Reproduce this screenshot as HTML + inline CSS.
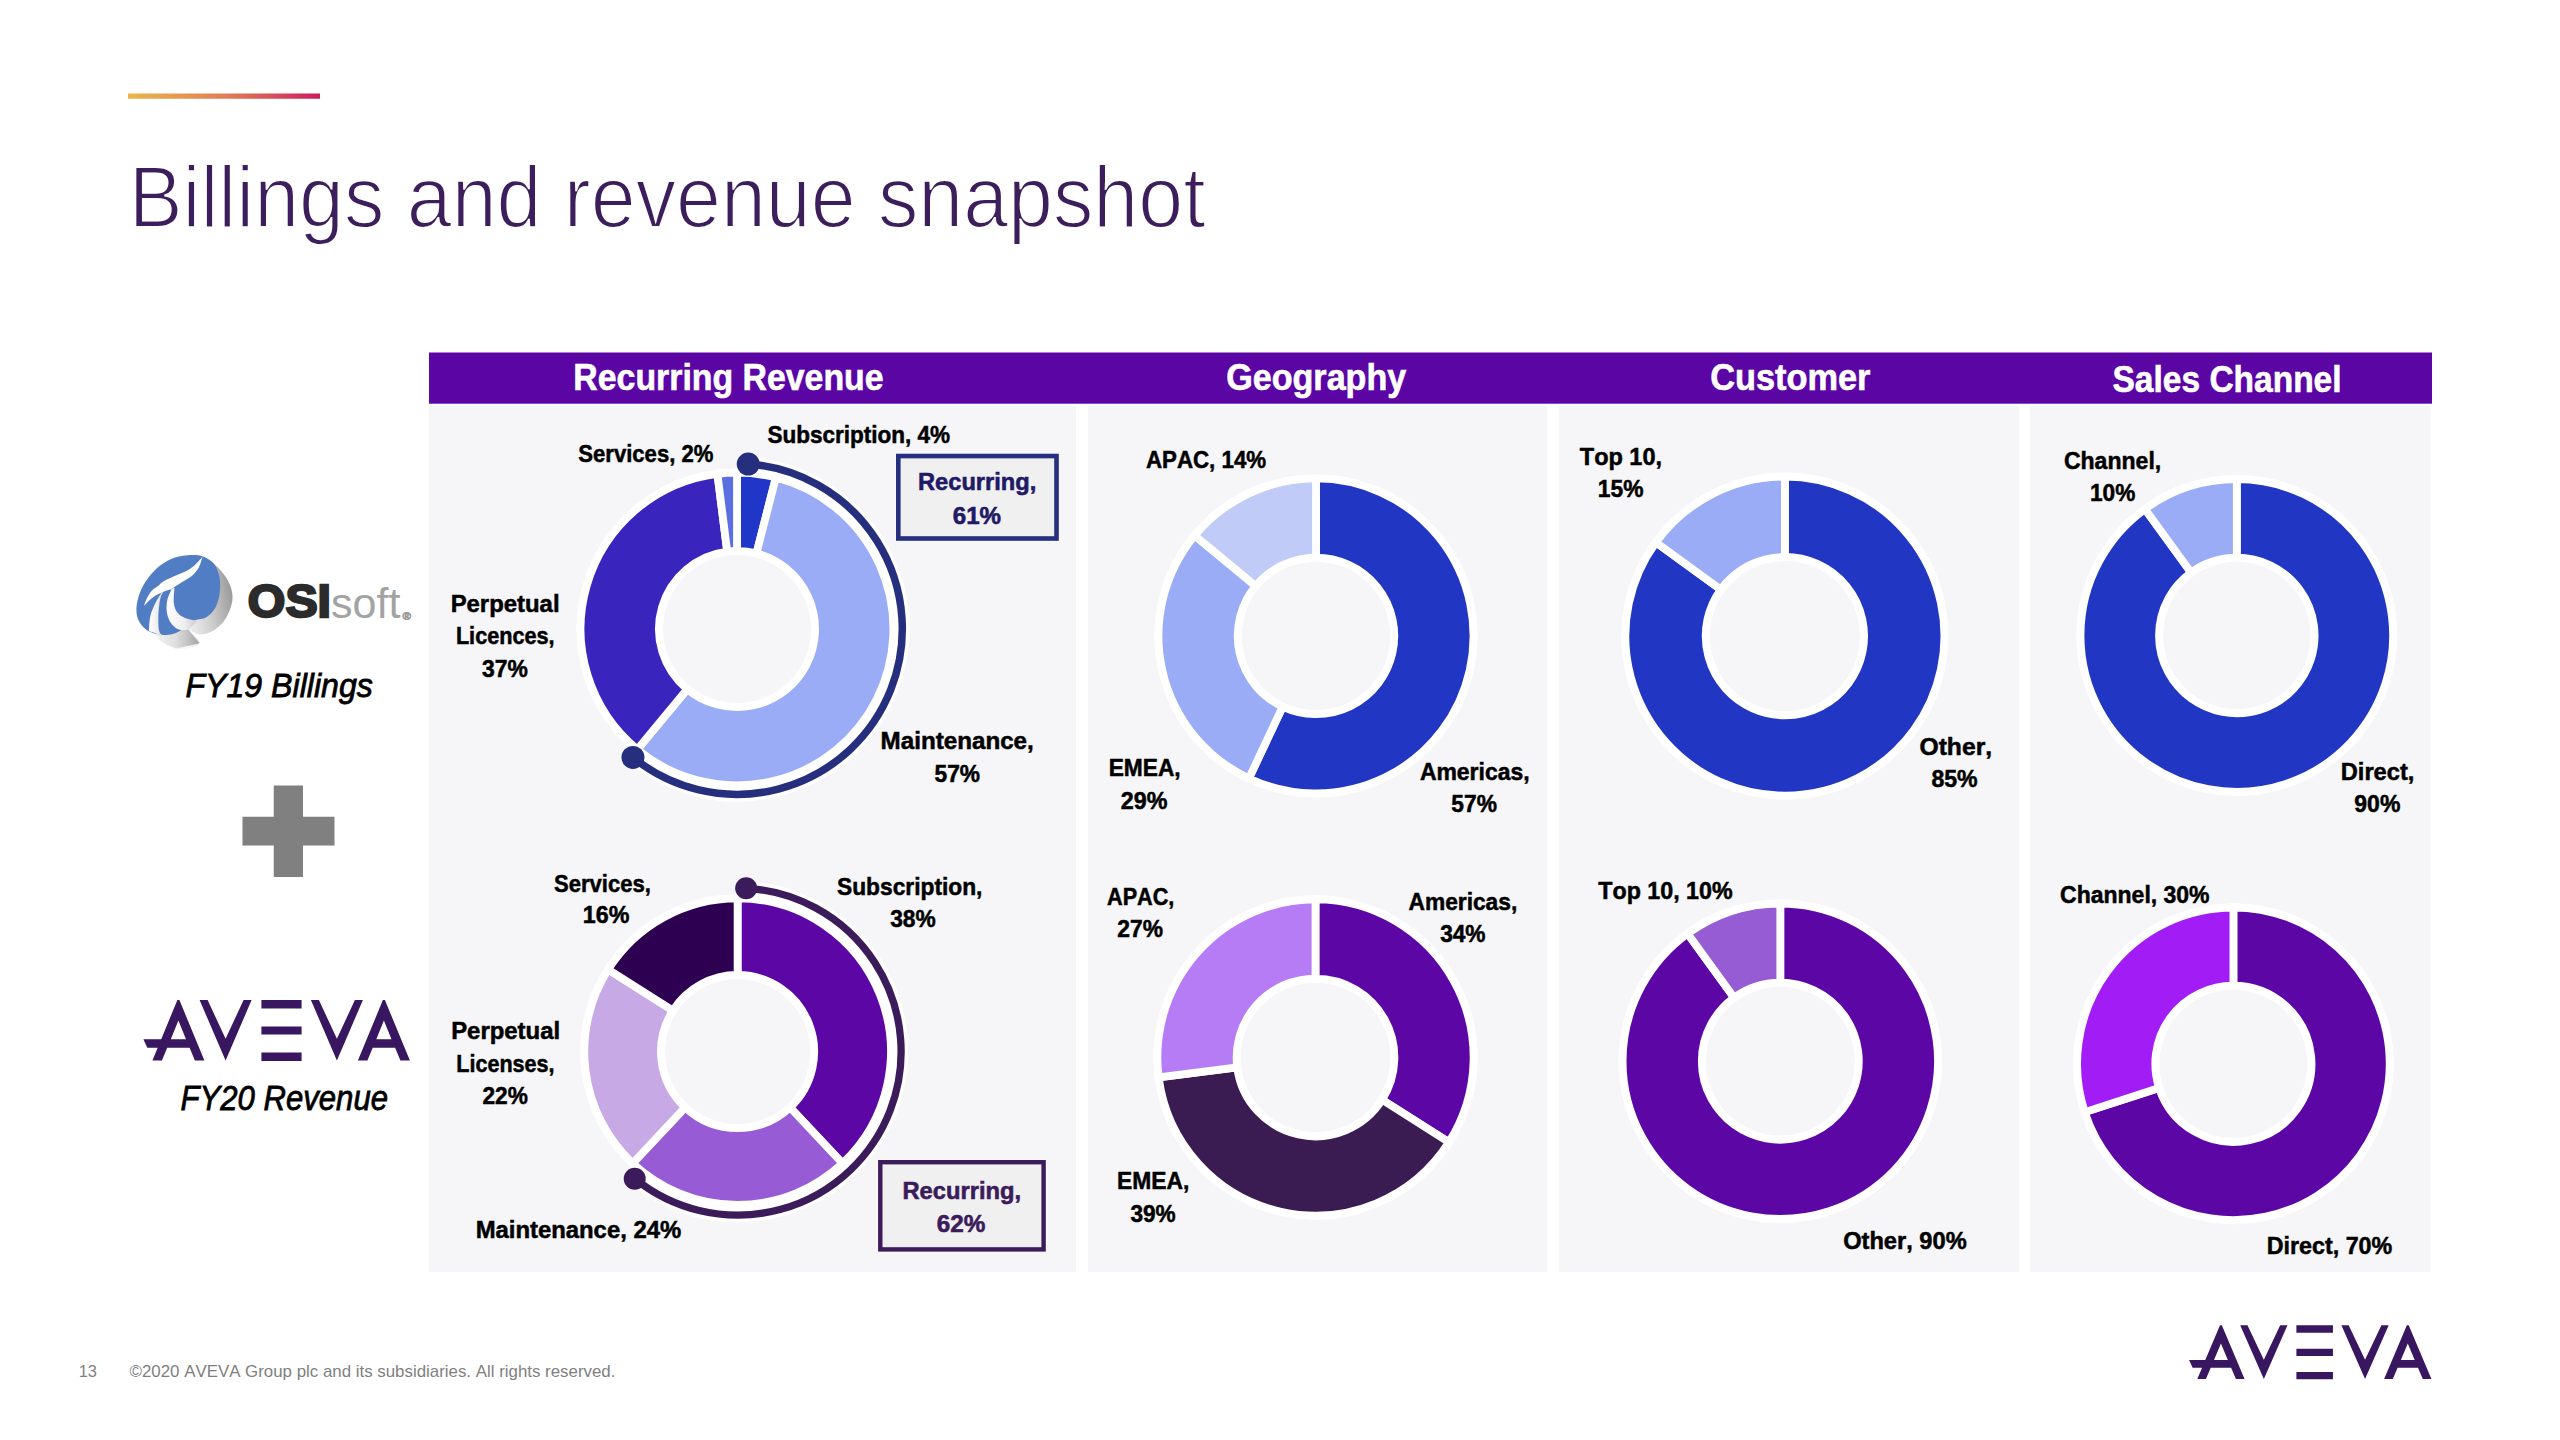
<!DOCTYPE html>
<html><head><meta charset="utf-8"><title>Billings and revenue snapshot</title>
<style>
html,body{margin:0;padding:0;background:#fff;}
body{width:2560px;height:1440px;overflow:hidden;position:relative;}
svg{position:absolute;left:0;top:0;display:block;}
text{font-family:"Liberation Sans",sans-serif;font-kerning:none;}
</style></head><body>
<svg width="2560" height="1440" viewBox="0 0 2560 1440">
<rect width="2560" height="1440" fill="#fff"/>
<defs><linearGradient id="gl" x1="0" x2="1" y1="0" y2="0"><stop offset="0" stop-color="#EAB54A"/><stop offset="0.5" stop-color="#E07F55"/><stop offset="1" stop-color="#CC1D5E"/></linearGradient></defs>
<rect x="128" y="93.5" width="192" height="5.25" fill="url(#gl)"/>
<rect x="429" y="352.5" width="2003" height="51.2" fill="#5B05A5"/>
<rect x="429" y="406" width="647" height="866" fill="#F6F6F8"/>
<rect x="1088" y="406" width="459" height="866" fill="#F6F6F8"/>
<rect x="1559" y="406" width="460" height="866" fill="#F6F6F8"/>
<rect x="2030" y="406" width="400.5" height="866" fill="#F6F6F8"/>
<circle cx="737.0" cy="629" r="160.5" fill="#fff"/>
<path d="M737.00,472.60 A156.4,156.4 0 0 1 775.90,477.51 L756.42,553.35 A78.1,78.1 0 0 0 737.00,550.90 Z" fill="#2036C8" stroke="#fff" stroke-width="7.8" stroke-linejoin="miter"/>
<path d="M775.90,477.51 A156.4,156.4 0 1 1 637.31,749.51 L687.22,689.18 A78.1,78.1 0 1 0 756.42,553.35 Z" fill="#9AACF6" stroke="#fff" stroke-width="7.8" stroke-linejoin="miter"/>
<path d="M637.31,749.51 A156.4,156.4 0 0 1 717.40,473.83 L727.21,551.52 A78.1,78.1 0 0 0 687.22,689.18 Z" fill="#3A24BE" stroke="#fff" stroke-width="7.8" stroke-linejoin="miter"/>
<path d="M717.40,473.83 A156.4,156.4 0 0 1 737.00,472.60 L737.00,550.90 A78.1,78.1 0 0 0 727.21,551.52 Z" fill="#5B6FE0" stroke="#fff" stroke-width="7.8" stroke-linejoin="miter"/>
<circle cx="737.0" cy="629" r="74" fill="#F6F6F8"/>
<circle cx="737.6" cy="1051.6" r="157.4" fill="#fff"/>
<path d="M737.60,898.30 A153.3,153.3 0 0 1 842.54,1163.35 L790.04,1107.44 A76.6,76.6 0 0 0 737.60,975.00 Z" fill="#5C06A6" stroke="#fff" stroke-width="7.8" stroke-linejoin="miter"/>
<path d="M842.54,1163.35 A153.3,153.3 0 0 1 632.66,1163.35 L685.16,1107.44 A76.6,76.6 0 0 0 790.04,1107.44 Z" fill="#975CD5" stroke="#fff" stroke-width="7.8" stroke-linejoin="miter"/>
<path d="M632.66,1163.35 A153.3,153.3 0 0 1 608.16,969.46 L672.92,1010.56 A76.6,76.6 0 0 0 685.16,1107.44 Z" fill="#C7A9E6" stroke="#fff" stroke-width="7.8" stroke-linejoin="miter"/>
<path d="M608.16,969.46 A153.3,153.3 0 0 1 737.60,898.30 L737.60,975.00 A76.6,76.6 0 0 0 672.92,1010.56 Z" fill="#2E0052" stroke="#fff" stroke-width="7.8" stroke-linejoin="miter"/>
<circle cx="737.6" cy="1051.6" r="72.5" fill="#F6F6F8"/>
<circle cx="1316" cy="635.9" r="161.6" fill="#fff"/>
<path d="M1316.00,478.40 A157.5,157.5 0 1 1 1248.94,778.41 L1282.66,706.75 A78.3,78.3 0 1 0 1316.00,557.60 Z" fill="#2137C4" stroke="#fff" stroke-width="7.8" stroke-linejoin="miter"/>
<path d="M1248.94,778.41 A157.5,157.5 0 0 1 1194.64,535.51 L1255.67,585.99 A78.3,78.3 0 0 0 1282.66,706.75 Z" fill="#9AACF6" stroke="#fff" stroke-width="7.8" stroke-linejoin="miter"/>
<path d="M1194.64,535.51 A157.5,157.5 0 0 1 1316.00,478.40 L1316.00,557.60 A78.3,78.3 0 0 0 1255.67,585.99 Z" fill="#C0CBF8" stroke="#fff" stroke-width="7.8" stroke-linejoin="miter"/>
<circle cx="1316" cy="635.9" r="74.2" fill="#F6F6F8"/>
<circle cx="1315.5" cy="1057.5" r="162.2" fill="#fff"/>
<path d="M1315.50,899.40 A158.1,158.1 0 0 1 1448.99,1142.21 L1382.12,1099.78 A78.89999999999999,78.89999999999999 0 0 0 1315.50,978.60 Z" fill="#5C06A6" stroke="#fff" stroke-width="7.8" stroke-linejoin="miter"/>
<path d="M1448.99,1142.21 A158.1,158.1 0 0 1 1158.65,1077.32 L1237.22,1067.39 A78.89999999999999,78.89999999999999 0 0 0 1382.12,1099.78 Z" fill="#3A1C52" stroke="#fff" stroke-width="7.8" stroke-linejoin="miter"/>
<path d="M1158.65,1077.32 A158.1,158.1 0 0 1 1315.50,899.40 L1315.50,978.60 A78.89999999999999,78.89999999999999 0 0 0 1237.22,1067.39 Z" fill="#B67CF6" stroke="#fff" stroke-width="7.8" stroke-linejoin="miter"/>
<circle cx="1315.5" cy="1057.5" r="74.8" fill="#F6F6F8"/>
<circle cx="1784.9" cy="636.1" r="163.6" fill="#fff"/>
<path d="M1784.90,476.60 A159.5,159.5 0 1 1 1655.86,542.35 L1720.83,589.55 A79.19999999999999,79.19999999999999 0 1 0 1784.90,556.90 Z" fill="#2137C4" stroke="#fff" stroke-width="7.8" stroke-linejoin="miter"/>
<path d="M1655.86,542.35 A159.5,159.5 0 0 1 1784.90,476.60 L1784.90,556.90 A79.19999999999999,79.19999999999999 0 0 0 1720.83,589.55 Z" fill="#9AACF6" stroke="#fff" stroke-width="7.8" stroke-linejoin="miter"/>
<circle cx="1784.9" cy="636.1" r="75.1" fill="#F6F6F8"/>
<circle cx="1780.3" cy="1061.2" r="161.8" fill="#fff"/>
<path d="M1780.30,903.50 A157.70000000000002,157.70000000000002 0 1 1 1687.61,933.62 L1734.16,997.69 A78.5,78.5 0 1 0 1780.30,982.70 Z" fill="#5C06A6" stroke="#fff" stroke-width="7.8" stroke-linejoin="miter"/>
<path d="M1687.61,933.62 A157.70000000000002,157.70000000000002 0 0 1 1780.30,903.50 L1780.30,982.70 A78.5,78.5 0 0 0 1734.16,997.69 Z" fill="#965CD4" stroke="#fff" stroke-width="7.8" stroke-linejoin="miter"/>
<circle cx="1780.3" cy="1061.2" r="74.4" fill="#F6F6F8"/>
<circle cx="2236.8" cy="635.5" r="160.4" fill="#fff"/>
<path d="M2236.80,479.20 A156.3,156.3 0 1 1 2144.93,509.05 L2191.07,572.56 A77.8,77.8 0 1 0 2236.80,557.70 Z" fill="#2137C4" stroke="#fff" stroke-width="7.8" stroke-linejoin="miter"/>
<path d="M2144.93,509.05 A156.3,156.3 0 0 1 2236.80,479.20 L2236.80,557.70 A77.8,77.8 0 0 0 2191.07,572.56 Z" fill="#9AACF6" stroke="#fff" stroke-width="7.8" stroke-linejoin="miter"/>
<circle cx="2236.8" cy="635.5" r="73.7" fill="#F6F6F8"/>
<circle cx="2233.4" cy="1063.8" r="160.4" fill="#fff"/>
<path d="M2233.40,907.50 A156.3,156.3 0 1 1 2084.75,1112.10 L2159.12,1087.93 A78.1,78.1 0 1 0 2233.40,985.70 Z" fill="#5C06A6" stroke="#fff" stroke-width="7.8" stroke-linejoin="miter"/>
<path d="M2084.75,1112.10 A156.3,156.3 0 0 1 2233.40,907.50 L2233.40,985.70 A78.1,78.1 0 0 0 2159.12,1087.93 Z" fill="#A11CF5" stroke="#fff" stroke-width="7.8" stroke-linejoin="miter"/>
<circle cx="2233.4" cy="1063.8" r="74" fill="#F6F6F8"/>
<path d="M748.24,464.08 A165.3,165.3 0 1 1 632.97,757.46" fill="none" stroke="#fff" stroke-width="14.5"/><path d="M748.24,464.08 A165.3,165.3 0 1 1 632.97,757.46" fill="none" stroke="#262F7D" stroke-width="7.5"/><circle cx="748.24" cy="464.08" r="11.5" fill="#262F7D"/><circle cx="632.97" cy="757.46" r="11.5" fill="#262F7D"/>
<path d="M746.16,888.32 A163.5,163.5 0 1 1 634.71,1178.66" fill="none" stroke="#fff" stroke-width="14.3"/><path d="M746.16,888.32 A163.5,163.5 0 1 1 634.71,1178.66" fill="none" stroke="#3C1B5B" stroke-width="7.3"/><circle cx="746.16" cy="888.32" r="11" fill="#3C1B5B"/><circle cx="634.71" cy="1178.66" r="11" fill="#3C1B5B"/>
<rect x="898.3" y="456.05" width="158.19999999999996" height="82.44999999999996" fill="#F0F0F1" stroke="#262F7D" stroke-width="4.6"/>
<rect x="880.3000000000001" y="1162.2" width="163.29999999999993" height="87.1999999999999" fill="#F0F0F1" stroke="#3C1B5B" stroke-width="4.4"/>
<rect x="273.75" y="785.5" width="29.25" height="91.5" fill="#808080"/><rect x="242.5" y="816.75" width="92" height="28.75" fill="#808080"/>
<g><defs><linearGradient id="og" x1="0" y1="0.2" x2="1" y2="0"><stop offset="0" stop-color="#ffffff"/><stop offset="0.35" stop-color="#f2f2f2"/><stop offset="0.62" stop-color="#cfcfcf"/><stop offset="1" stop-color="#8e8e8e"/></linearGradient><linearGradient id="os" x1="0" y1="0" x2="1" y2="0"><stop offset="0" stop-color="#ffffff"/><stop offset="0.6" stop-color="#eeeef0"/><stop offset="1" stop-color="#c9c9cc"/></linearGradient></defs><path d="M149.00,631.00 C150.67,634.50 155.27,637.95 160.00,641.00 C164.73,644.05 170.82,648.93 177.40,649.30 C183.98,649.67 197.57,646.33 199.50,643.20 C201.43,640.07 188.92,631.95 189.00,630.50 C189.08,629.05 195.83,634.55 200.00,634.50 C204.17,634.45 209.67,632.95 214.00,630.20 C218.33,627.45 222.93,623.03 226.00,618.00 C229.07,612.97 231.73,605.50 232.40,600.00 C233.07,594.50 231.73,589.67 230.00,585.00 C228.27,580.33 225.00,575.67 222.00,572.00 C219.00,568.33 215.67,565.00 212.00,563.00 C208.33,561.00 203.67,558.00 200.00,560.00 C196.33,562.00 195.00,568.33 190.00,575.00 C185.00,581.67 176.67,592.50 170.00,600.00 C163.33,607.50 153.50,614.83 150.00,620.00 C146.50,625.17 147.33,627.50 149.00,631.00 Z" fill="url(#og)"/><linearGradient id="otb" x1="0" y1="0" x2="1" y2="0"><stop offset="0" stop-color="#fafafa"/><stop offset="0.55" stop-color="#dedede"/><stop offset="1" stop-color="#a4a4a4"/></linearGradient><path d="M148,628 L160.1,640.8 Q167,645.5 176.1,648.4 L199.5,643.2 L188,629 Z" fill="url(#otb)"/><path d="M148.30,631.00 C145.72,629.50 143.33,627.33 141.50,625.00 C139.67,622.67 138.13,619.95 137.30,617.00 C136.47,614.05 136.30,610.63 136.50,607.30 C136.70,603.97 137.50,600.38 138.50,597.00 C139.50,593.62 140.73,590.38 142.50,587.00 C144.27,583.62 146.08,580.32 149.10,576.70 C152.12,573.08 156.28,568.50 160.60,565.30 C164.92,562.10 169.93,559.22 175.00,557.50 C180.07,555.78 186.33,555.17 191.00,555.00 C195.67,554.83 199.17,555.03 203.00,556.50 C206.83,557.97 211.27,560.43 214.00,563.80 C216.73,567.17 218.43,572.00 219.40,576.70 C220.37,581.40 220.43,586.90 219.80,592.00 C219.17,597.10 217.83,603.10 215.60,607.30 C213.37,611.50 209.85,615.03 206.40,617.20 C202.95,619.37 198.30,618.67 194.90,620.30 C191.50,621.93 189.15,624.88 186.00,627.00 C182.85,629.12 179.33,631.67 176.00,633.00 C172.67,634.33 169.17,634.83 166.00,635.00 C162.83,635.17 159.95,634.67 157.00,634.00 C154.05,633.33 150.88,632.50 148.30,631.00 Z" fill="#507DC3"/><path d="M161.30,592.80 C160.28,594.58 156.98,599.82 155.20,603.50 C153.42,607.18 151.62,611.08 150.60,614.90 C149.58,618.72 149.35,623.72 149.10,626.40 C148.85,629.08 149.10,630.23 149.10,631.00 L149.10,631.00 C151.27,631.77 159.93,634.83 162.10,635.60 L162.10,635.60 C161.58,634.70 159.63,633.00 159.00,630.20 C158.37,627.40 158.30,622.62 158.30,618.80 C158.30,614.98 158.62,610.87 159.00,607.30 C159.38,603.73 159.85,599.98 160.60,597.40 C161.35,594.82 163.02,592.73 163.50,591.80 Z" fill="url(#os)"/><path d="M171.60,589.00 C170.90,590.78 168.22,596.02 167.40,599.70 C166.58,603.38 166.32,607.55 166.70,611.10 C167.08,614.65 168.18,618.20 169.70,621.00 C171.22,623.80 173.50,626.37 175.80,627.90 C178.10,629.43 181.13,630.02 183.50,630.20 C185.87,630.38 188.92,629.20 190.00,629.00 L190.00,629.00 C191.17,627.67 195.83,622.33 197.00,621.00 L197.00,621.00 C196.65,620.88 196.90,620.80 194.90,620.30 C192.90,619.80 187.92,619.28 185.00,618.00 C182.08,616.72 179.25,615.02 177.40,612.60 C175.55,610.18 174.42,607.32 173.90,603.50 C173.38,599.68 174.12,592.37 174.30,589.70 C174.48,587.03 174.88,587.87 175.00,587.50 Z" fill="url(#os)"/><path d="M144.10,605.80 C144.50,604.67 145.27,601.47 146.50,599.00 C147.73,596.53 149.58,593.17 151.50,591.00 C153.42,588.83 155.85,587.70 158.00,586.00 C160.15,584.30 161.43,582.55 164.40,580.80 C167.37,579.05 171.98,577.22 175.80,575.50 C179.62,573.78 184.12,572.25 187.30,570.50 C190.48,568.75 192.62,567.00 194.90,565.00 C197.18,563.00 199.72,559.92 201.00,558.50 C202.28,557.08 202.33,556.83 202.60,556.50 L202.60,556.50 C201.97,558.35 200.47,564.48 198.80,567.60 C197.13,570.72 195.15,572.92 192.60,575.20 C190.05,577.48 186.03,579.65 183.50,581.30 C180.97,582.95 179.38,583.82 177.40,585.10 C175.42,586.38 173.38,588.10 171.60,589.00 C169.82,589.90 168.42,589.87 166.70,590.50 C164.98,591.13 163.22,591.92 161.30,592.80 C159.38,593.68 157.23,594.53 155.20,595.80 C153.17,597.07 150.95,598.73 149.10,600.40 C147.25,602.07 144.93,604.90 144.10,605.80 Z" fill="#ffffff"/></g>
<path fill-rule="evenodd" d="M177.40,1000.00 179.40,1000.00 204.40,1060.60 194.90,1060.60 189.60,1047.70 167.20,1047.70 161.90,1060.60 152.40,1060.60 157.70,1047.70 147.30,1047.70 143.40,1039.20 161.20,1039.20Z M178.40,1020.60 186.00,1039.20 170.80,1039.20Z" fill="#381660"/>
<polygon points="199.60,1000.00 207.60,1000.00 225.60,1038.80 243.60,1000.00 251.60,1000.00 225.60,1060.60" fill="#381660"/>
<polygon points="261.40,1000.00 301.60,1000.00 301.60,1008.40 261.40,1008.40" fill="#381660"/>
<polygon points="261.40,1026.50 301.60,1026.50 301.60,1034.50 261.40,1034.50" fill="#381660"/>
<polygon points="261.40,1052.60 301.60,1052.60 301.60,1060.90 261.40,1060.90" fill="#381660"/>
<polygon points="310.90,1000.00 318.90,1000.00 336.90,1038.80 354.90,1000.00 362.90,1000.00 336.90,1060.60" fill="#381660"/>
<path fill-rule="evenodd" d="M382.90,1000.00 384.90,1000.00 409.90,1060.60 400.40,1060.60 395.10,1047.70 372.70,1047.70 367.40,1060.60 357.90,1060.60Z M383.90,1020.60 391.50,1039.20 376.30,1039.20Z" fill="#381660"/>
<path fill-rule="evenodd" d="M2220.01,1325.30 2221.83,1325.30 2244.56,1379.10 2235.93,1379.10 2231.11,1367.65 2210.74,1367.65 2205.92,1379.10 2197.28,1379.10 2202.10,1367.65 2192.65,1367.65 2189.10,1360.10 2205.28,1360.10Z M2220.92,1343.59 2227.83,1360.10 2214.01,1360.10Z" fill="#381660"/>
<polygon points="2240.20,1325.30 2247.47,1325.30 2263.84,1359.75 2280.21,1325.30 2287.48,1325.30 2263.84,1379.10" fill="#381660"/>
<polygon points="2296.39,1325.30 2332.95,1325.30 2332.95,1332.76 2296.39,1332.76" fill="#381660"/>
<polygon points="2296.39,1348.83 2332.95,1348.83 2332.95,1355.93 2296.39,1355.93" fill="#381660"/>
<polygon points="2296.39,1372.00 2332.95,1372.00 2332.95,1379.37 2296.39,1379.37" fill="#381660"/>
<polygon points="2341.40,1325.30 2348.68,1325.30 2365.04,1359.75 2381.41,1325.30 2388.68,1325.30 2365.04,1379.10" fill="#381660"/>
<path fill-rule="evenodd" d="M2406.87,1325.30 2408.69,1325.30 2431.42,1379.10 2422.78,1379.10 2417.96,1367.65 2397.59,1367.65 2392.77,1379.10 2384.14,1379.10Z M2407.78,1343.59 2414.69,1360.10 2400.87,1360.10Z" fill="#381660"/>
<text x="402.6" y="620.2" font-size="11.5" font-weight="bold" fill="#959595" stroke="#959595" stroke-width="0.6" font-family="Liberation Sans">®</text>
<text x="128.63" y="227.40" font-size="86.63" font-weight="normal" font-style="normal" fill="#3D1E5C" textLength="1076.96" lengthAdjust="spacingAndGlyphs" stroke="#fff" stroke-width="2">Billings and revenue snapshot</text>
<text x="573.34" y="389.50" font-size="36.19" font-weight="bold" font-style="normal" fill="#fff" textLength="310.22" lengthAdjust="spacingAndGlyphs" stroke="#fff" stroke-width="0.6">Recurring Revenue</text>
<text x="1226.20" y="390.20" font-size="36.19" font-weight="bold" font-style="normal" fill="#fff" textLength="180.08" lengthAdjust="spacingAndGlyphs" stroke="#fff" stroke-width="0.6">Geography</text>
<text x="1710.14" y="390.40" font-size="36.19" font-weight="bold" font-style="normal" fill="#fff" textLength="160.28" lengthAdjust="spacingAndGlyphs" stroke="#fff" stroke-width="0.6">Customer</text>
<text x="2112.53" y="391.50" font-size="36.19" font-weight="bold" font-style="normal" fill="#fff" textLength="229.04" lengthAdjust="spacingAndGlyphs" stroke="#fff" stroke-width="0.6">Sales Channel</text>
<text x="767.40" y="442.85" font-size="23.26" font-weight="bold" font-style="normal" fill="#000" textLength="182.74" lengthAdjust="spacingAndGlyphs" stroke="#000" stroke-width="0.5">Subscription, 4%</text>
<text x="578.36" y="461.65" font-size="23.26" font-weight="bold" font-style="normal" fill="#000" textLength="134.97" lengthAdjust="spacingAndGlyphs" stroke="#000" stroke-width="0.5">Services, 2%</text>
<text x="450.65" y="612.05" font-size="23.26" font-weight="bold" font-style="normal" fill="#000" textLength="108.89" lengthAdjust="spacingAndGlyphs" stroke="#000" stroke-width="0.5">Perpetual</text>
<text x="455.90" y="644.15" font-size="23.26" font-weight="bold" font-style="normal" fill="#000" textLength="98.70" lengthAdjust="spacingAndGlyphs" stroke="#000" stroke-width="0.5">Licences,</text>
<text x="482.02" y="677.35" font-size="23.26" font-weight="bold" font-style="normal" fill="#000" textLength="45.83" lengthAdjust="spacingAndGlyphs" stroke="#000" stroke-width="0.5">37%</text>
<text x="880.63" y="749.25" font-size="23.26" font-weight="bold" font-style="normal" fill="#000" textLength="153.13" lengthAdjust="spacingAndGlyphs" stroke="#000" stroke-width="0.5">Maintenance,</text>
<text x="934.55" y="781.95" font-size="23.26" font-weight="bold" font-style="normal" fill="#000" textLength="45.50" lengthAdjust="spacingAndGlyphs" stroke="#000" stroke-width="0.5">57%</text>
<text x="554.02" y="891.75" font-size="23.26" font-weight="bold" font-style="normal" fill="#000" textLength="96.81" lengthAdjust="spacingAndGlyphs" stroke="#000" stroke-width="0.5">Services,</text>
<text x="582.78" y="923.15" font-size="23.26" font-weight="bold" font-style="normal" fill="#000" textLength="46.58" lengthAdjust="spacingAndGlyphs" stroke="#000" stroke-width="0.5">16%</text>
<text x="836.99" y="895.25" font-size="23.26" font-weight="bold" font-style="normal" fill="#000" textLength="145.48" lengthAdjust="spacingAndGlyphs" stroke="#000" stroke-width="0.5">Subscription,</text>
<text x="890.13" y="926.75" font-size="23.26" font-weight="bold" font-style="normal" fill="#000" textLength="45.52" lengthAdjust="spacingAndGlyphs" stroke="#000" stroke-width="0.5">38%</text>
<text x="451.15" y="1039.45" font-size="23.26" font-weight="bold" font-style="normal" fill="#000" textLength="108.99" lengthAdjust="spacingAndGlyphs" stroke="#000" stroke-width="0.5">Perpetual</text>
<text x="456.31" y="1071.75" font-size="23.26" font-weight="bold" font-style="normal" fill="#000" textLength="98.18" lengthAdjust="spacingAndGlyphs" stroke="#000" stroke-width="0.5">Licenses,</text>
<text x="482.46" y="1104.45" font-size="23.26" font-weight="bold" font-style="normal" fill="#000" textLength="45.38" lengthAdjust="spacingAndGlyphs" stroke="#000" stroke-width="0.5">22%</text>
<text x="475.65" y="1238.45" font-size="23.26" font-weight="bold" font-style="normal" fill="#000" textLength="205.53" lengthAdjust="spacingAndGlyphs" stroke="#000" stroke-width="0.5">Maintenance, 24%</text>
<text x="1145.94" y="468.05" font-size="23.26" font-weight="bold" font-style="normal" fill="#000" textLength="120.19" lengthAdjust="spacingAndGlyphs" stroke="#000" stroke-width="0.5">APAC, 14%</text>
<text x="1108.63" y="776.45" font-size="23.26" font-weight="bold" font-style="normal" fill="#000" textLength="72.04" lengthAdjust="spacingAndGlyphs" stroke="#000" stroke-width="0.5">EMEA,</text>
<text x="1120.84" y="808.65" font-size="23.26" font-weight="bold" font-style="normal" fill="#000" textLength="46.62" lengthAdjust="spacingAndGlyphs" stroke="#000" stroke-width="0.5">29%</text>
<text x="1419.88" y="779.95" font-size="23.26" font-weight="bold" font-style="normal" fill="#000" textLength="109.71" lengthAdjust="spacingAndGlyphs" stroke="#000" stroke-width="0.5">Americas,</text>
<text x="1451.35" y="812.15" font-size="23.26" font-weight="bold" font-style="normal" fill="#000" textLength="45.60" lengthAdjust="spacingAndGlyphs" stroke="#000" stroke-width="0.5">57%</text>
<text x="1107.01" y="904.95" font-size="23.26" font-weight="bold" font-style="normal" fill="#000" textLength="67.39" lengthAdjust="spacingAndGlyphs" stroke="#000" stroke-width="0.5">APAC,</text>
<text x="1117.36" y="937.15" font-size="23.26" font-weight="bold" font-style="normal" fill="#000" textLength="45.69" lengthAdjust="spacingAndGlyphs" stroke="#000" stroke-width="0.5">27%</text>
<text x="1408.48" y="909.95" font-size="23.26" font-weight="bold" font-style="normal" fill="#000" textLength="108.79" lengthAdjust="spacingAndGlyphs" stroke="#000" stroke-width="0.5">Americas,</text>
<text x="1440.13" y="942.45" font-size="23.26" font-weight="bold" font-style="normal" fill="#000" textLength="45.42" lengthAdjust="spacingAndGlyphs" stroke="#000" stroke-width="0.5">34%</text>
<text x="1117.12" y="1188.75" font-size="23.26" font-weight="bold" font-style="normal" fill="#000" textLength="72.25" lengthAdjust="spacingAndGlyphs" stroke="#000" stroke-width="0.5">EMEA,</text>
<text x="1130.43" y="1221.55" font-size="23.26" font-weight="bold" font-style="normal" fill="#000" textLength="45.21" lengthAdjust="spacingAndGlyphs" stroke="#000" stroke-width="0.5">39%</text>
<text x="1579.79" y="465.25" font-size="23.26" font-weight="bold" font-style="normal" fill="#000" textLength="82.24" lengthAdjust="spacingAndGlyphs" stroke="#000" stroke-width="0.5">Top 10,</text>
<text x="1597.81" y="497.25" font-size="23.26" font-weight="bold" font-style="normal" fill="#000" textLength="45.64" lengthAdjust="spacingAndGlyphs" stroke="#000" stroke-width="0.5">15%</text>
<text x="1919.44" y="754.95" font-size="23.26" font-weight="bold" font-style="normal" fill="#000" textLength="72.66" lengthAdjust="spacingAndGlyphs" stroke="#000" stroke-width="0.5">Other,</text>
<text x="1931.42" y="786.95" font-size="23.26" font-weight="bold" font-style="normal" fill="#000" textLength="46.24" lengthAdjust="spacingAndGlyphs" stroke="#000" stroke-width="0.5">85%</text>
<text x="1598.29" y="898.75" font-size="23.26" font-weight="bold" font-style="normal" fill="#000" textLength="134.27" lengthAdjust="spacingAndGlyphs" stroke="#000" stroke-width="0.5">Top 10, 10%</text>
<text x="1843.18" y="1249.25" font-size="23.26" font-weight="bold" font-style="normal" fill="#000" textLength="123.49" lengthAdjust="spacingAndGlyphs" stroke="#000" stroke-width="0.5">Other, 90%</text>
<text x="2063.91" y="469.05" font-size="23.26" font-weight="bold" font-style="normal" fill="#000" textLength="97.29" lengthAdjust="spacingAndGlyphs" stroke="#000" stroke-width="0.5">Channel,</text>
<text x="2090.03" y="501.45" font-size="23.26" font-weight="bold" font-style="normal" fill="#000" textLength="45.22" lengthAdjust="spacingAndGlyphs" stroke="#000" stroke-width="0.5">10%</text>
<text x="2340.77" y="779.75" font-size="23.26" font-weight="bold" font-style="normal" fill="#000" textLength="73.56" lengthAdjust="spacingAndGlyphs" stroke="#000" stroke-width="0.5">Direct,</text>
<text x="2354.35" y="812.25" font-size="23.26" font-weight="bold" font-style="normal" fill="#000" textLength="46.00" lengthAdjust="spacingAndGlyphs" stroke="#000" stroke-width="0.5">90%</text>
<text x="2060.11" y="903.25" font-size="23.26" font-weight="bold" font-style="normal" fill="#000" textLength="149.45" lengthAdjust="spacingAndGlyphs" stroke="#000" stroke-width="0.5">Channel, 30%</text>
<text x="2266.79" y="1254.15" font-size="23.26" font-weight="bold" font-style="normal" fill="#000" textLength="125.47" lengthAdjust="spacingAndGlyphs" stroke="#000" stroke-width="0.5">Direct, 70%</text>
<text x="918.02" y="490.10" font-size="24.71" font-weight="bold" font-style="normal" fill="#201A66" textLength="118.26" lengthAdjust="spacingAndGlyphs" stroke="#201A66" stroke-width="0.6">Recurring,</text>
<text x="952.72" y="523.70" font-size="24.71" font-weight="bold" font-style="normal" fill="#201A66" textLength="48.32" lengthAdjust="spacingAndGlyphs" stroke="#201A66" stroke-width="0.6">61%</text>
<text x="902.46" y="1198.50" font-size="24.71" font-weight="bold" font-style="normal" fill="#3C1B5B" textLength="118.62" lengthAdjust="spacingAndGlyphs" stroke="#3C1B5B" stroke-width="0.6">Recurring,</text>
<text x="936.71" y="1231.70" font-size="24.71" font-weight="bold" font-style="normal" fill="#3C1B5B" textLength="48.63" lengthAdjust="spacingAndGlyphs" stroke="#3C1B5B" stroke-width="0.6">62%</text>
<text x="185.41" y="696.50" font-size="33.43" font-weight="normal" font-style="italic" fill="#000" textLength="187.45" lengthAdjust="spacingAndGlyphs" stroke="#000" stroke-width="0.8">FY19 Billings</text>
<text x="180.44" y="1110.20" font-size="34.16" font-weight="normal" font-style="italic" fill="#000" textLength="207.61" lengthAdjust="spacingAndGlyphs" stroke="#000" stroke-width="0.8">FY20 Revenue</text>
<text x="247.82" y="617.20" font-size="45.49" font-weight="bold" font-style="normal" fill="#2B2B2B" textLength="83.21" lengthAdjust="spacingAndGlyphs" stroke="#2B2B2B" stroke-width="2.4">OSI</text>
<text x="331.10" y="618.30" font-size="42.59" font-weight="normal" font-style="normal" fill="#A3A3A3" textLength="69.41" lengthAdjust="spacingAndGlyphs">soft</text>
<text x="78.65" y="1376.70" font-size="17.15" font-weight="normal" font-style="normal" fill="#7F7F7F" textLength="18.27" lengthAdjust="spacingAndGlyphs">13</text>
<text x="129.54" y="1376.70" font-size="17.15" font-weight="normal" font-style="normal" fill="#7F7F7F" textLength="485.90" lengthAdjust="spacingAndGlyphs">©2020 AVEVA Group plc and its subsidiaries. All rights reserved.</text>
</svg>
</body></html>
